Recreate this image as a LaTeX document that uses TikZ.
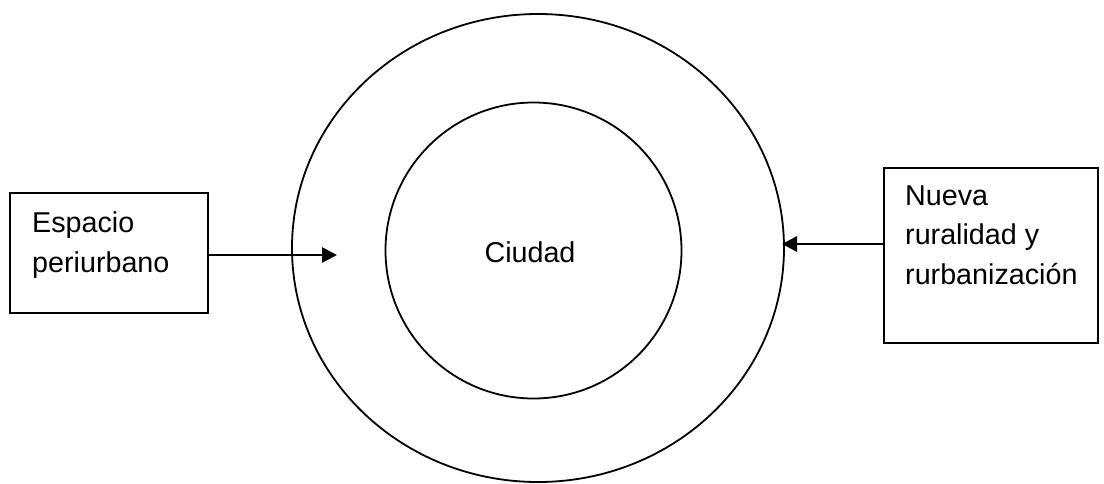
\documentclass[tikz,border=0pt]{standalone}
\usepackage{fontspec}
\setmainfont{Liberation Sans}
\usetikzlibrary{shapes.geometric,arrows.meta}
\begin{document}
\begin{tikzpicture}[x=1pt,y=-1pt,
  shape line/.style={draw=black, line width=1.8pt},
  boxnode/.style={shape line, rectangle, inner sep=0pt},
  txt/.style={font=\fontsize{28.7}{39.5}\selectfont, inner sep=0pt, align=left},
  arr/.style={line width=2.8pt, -{Triangle[length=15pt,width=15pt]}}]
\useasboundingbox (0,0) rectangle (1104,483);
% circles
\node[shape line, ellipse, inner sep=0pt, minimum width=492pt, minimum height=468pt] (outer) at (538,248) {};
\node[shape line, circle, inner sep=0pt, minimum size=296pt] (inner) at (533.5,250.5) {};
\node[txt, anchor=base] (ciudad) at (530,262) {Ciudad};
% boxes
\node[boxnode, minimum width=198pt, minimum height=120pt] (lbox) at (109,253) {};
\node[txt, anchor=north west] (ltext) at (32,211.6) {Espacio\\periurbano};
\node[boxnode, minimum width=214pt, minimum height=175pt] (rbox) at (991,255.5) {};
\node[txt, anchor=north west] (rtext) at (905,185.5) {Nueva\\ruralidad y\\rurbanización};
% arrows
\coordinate (lt) at (337,255);
\coordinate (rt) at (782,244);
\draw[arr] (lbox.east |- lt) -- (lt);
\draw[arr] (rbox.west |- rt) -- (rt);
\end{tikzpicture}
\end{document}
